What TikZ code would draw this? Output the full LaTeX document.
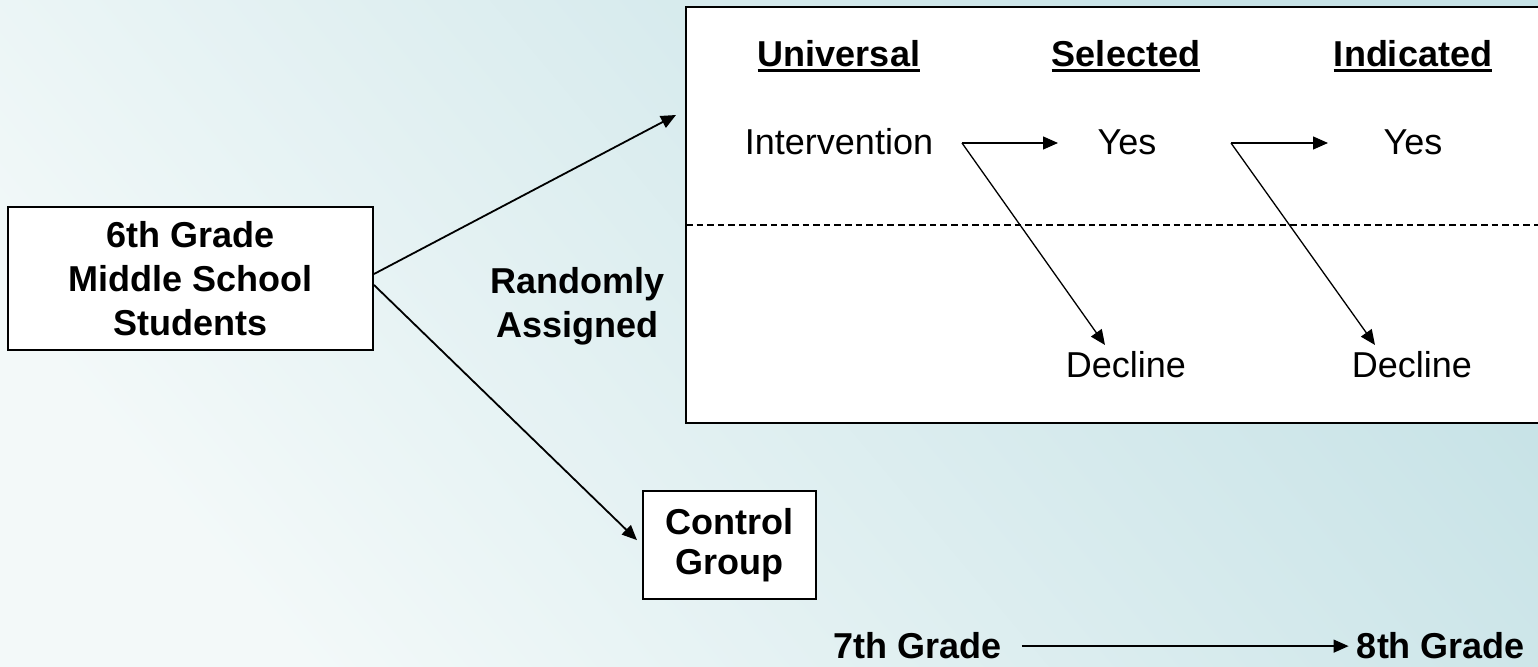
\documentclass[tikz,border=0pt]{standalone}
\usepackage{fontspec}
\setmainfont{Liberation Sans}
\usetikzlibrary{arrows.meta,positioning}
\definecolor{bglight}{RGB}{243,249,249}
\definecolor{bgdark}{RGB}{198,226,230}
\tikzset{
  box/.style={draw, line width=1pt, fill=white, align=center,
    font=\bfseries\fontsize{18}{22}\selectfont},
  lbl/.style={inner sep=0pt, font=\fontsize{18}{22}\selectfont},
  head/.style={inner sep=0pt, font=\bfseries\fontsize{18}{22}\selectfont},
  arr/.style={line width=0.9pt, -{Triangle[length=7.5pt,width=6.5pt]}},
  thinarr/.style={line width=0.65pt, -{Triangle[length=7.5pt,width=6.5pt]}},
  divider/.style={line width=0.65pt, dash pattern=on 3.3pt off 2pt},
}

\begin{document}
\begin{tikzpicture}[x=0.5pt,y=-0.5pt]
  \useasboundingbox (0,0) rectangle (1538,667);
  \shade[top color=bgdark, bottom color=bglight, shading angle=-50] (0,0) rectangle (1538,667);

  % the three tiers
  \begin{scope}
    \clip (0,0) rectangle (1538,667);
    \draw[line width=0.8pt, fill=white] (686,7) rectangle (1570,423);
    \draw[divider] (686,225) -- (1570,225);
  \end{scope}
  \node[head, anchor=base] (universal) at (839,67) {Universal};
  \node[head, anchor=base] (selected) at (1126,67) {Selected};
  \node[head, anchor=base] (indicated) at (1413,67) {Indicated};
  \foreach \h in {universal,selected,indicated}
    \draw[line width=1.5pt] ([yshift=-2pt]\h.base west) -- ([yshift=-2pt]\h.base east);

  \node[lbl, anchor=base] (intervention) at (839,155) {Intervention};
  \node[lbl, anchor=base] (yes1) at (1127,155) {Yes};
  \node[lbl, anchor=base] (yes2) at (1413,155) {Yes};
  \node[lbl, anchor=base] (decline1) at (1126,378) {Decline};
  \node[lbl, anchor=base] (decline2) at (1412,378) {Decline};

  \coordinate (fork1) at (962,143);
  \coordinate (toyes1) at (1058,143);
  \coordinate (todecl1) at (1105,345);
  \coordinate (fork2) at (1231,143);
  \coordinate (toyes2) at (1328,143);
  \coordinate (todecl2) at (1375,345);
  \draw[thinarr] (fork1) -- (toyes1);
  \draw[thinarr] (fork1) -- (todecl1);
  \draw[thinarr] (fork2) -- (toyes2);
  \draw[thinarr] (fork2) -- (todecl2);

  % students and assignment
  \node[box, minimum width=182.5pt, minimum height=71.5pt] (grade6) at (190.5,278.5)
    {6th Grade\\Middle School\\Students};
  \node[box, minimum width=86.5pt, minimum height=54pt,
    font=\bfseries\fontsize{18}{20}\selectfont] (control) at (729.5,545) {Control\\Group};
  \node[head, align=center] (random) at (577.5,306) {Randomly\\Assigned};
  \coordinate (tiersin) at (676,115);
  \draw[arr] ([yshift=2.25pt]grade6.east) -- (tiersin);
  \draw[arr, shorten >=3.5pt] ([yshift=-3.25pt]grade6.east) -- (control.west);

  % timeline
  \node[head, anchor=base] (grade7) at (917.5,659) {7th Grade};
  \node[head, anchor=base] (grade8) at (1441,659) {8th Grade};
  \draw[thinarr, shorten <=10pt, shorten >=4pt] (grade7.east) -- (grade8.west);
\end{tikzpicture}
\end{document}
